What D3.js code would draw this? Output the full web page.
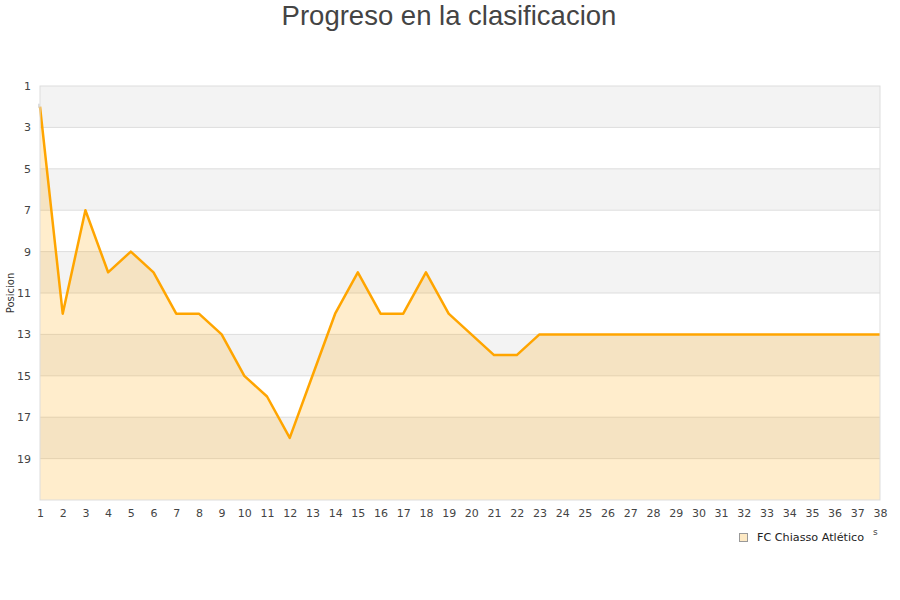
<!DOCTYPE html>
<html><head><meta charset="utf-8">
<script src="https://cdn.jsdelivr.net/npm/d3@7/dist/d3.min.js"></script>
<style>body{margin:0;background:#fff}</style>
</head><body>
<svg id="c" width="900" height="600"></svg>
<script>
const rounds = d3.range(1, 39);
const positions = [2,12,7,10,9,10,12,12,13,15,16,18,15,12,10,12,12,10,12,13,14,14,13,13,13,13,13,13,13,13,13,13,13,13,13,13,13,13];
const yTicks = [1,3,5,7,9,11,13,15,17,19];
const seriesName = "FC Chiasso Atlético";
const title = "Progreso en la clasificacion";
const yTitle = "Posicion";

const svg = d3.select("#c");
const L = 40, R = 880, T = 86, B = 500;
const x = d3.scaleLinear().domain([1, 38]).range([L, R]);
const y = d3.scaleLinear().domain([1, 21]).range([T, B]);

// bands
const bands = d3.range(1, 21, 2);
svg.append("g").selectAll("rect").data(bands).join("rect")
  .attr("x", L).attr("width", R - L)
  .attr("y", d => y(d)).attr("height", d => y(d + 2) - y(d))
  .attr("fill", (d, i) => i % 2 === 0 ? "#f3f3f3" : "#ffffff");
// grid lines
svg.append("g").selectAll("line").data(d3.range(3, 21, 2)).join("line")
  .attr("x1", L).attr("x2", R).attr("y1", d => y(d)).attr("y2", d => y(d))
  .attr("stroke", "#dddddd").attr("stroke-width", 1);

const data = rounds.map((r, i) => ({r, p: positions[i]}));
svg.append("path").datum(data)
  .attr("d", d3.area().x(d => x(d.r)).y0(y(21)).y1(d => y(d.p)))
  .attr("fill", "rgba(255,165,0,0.2)");
svg.append("path").datum(data)
  .attr("d", d3.line().x(d => x(d.r)).y(d => y(d.p)))
  .attr("fill", "none").attr("stroke", "#ffa500").attr("stroke-width", 2.5)
  .attr("stroke-linejoin", "round");
// small first-point marker
svg.append("line").attr("x1", x(1) - 1).attr("x2", x(1) - 1)
  .attr("y1", y(positions[0]) - 3).attr("y2", y(positions[0]) + 1)
  .attr("stroke", "#bbb").attr("stroke-width", 1);

// border
svg.append("rect").attr("x", L).attr("y", T).attr("width", R - L).attr("height", B - T)
  .attr("fill", "none").attr("stroke", "#dddddd");

// axes
const xAxis = svg.append("g").attr("transform", `translate(0,${B})`)
  .call(d3.axisBottom(x).tickValues(rounds).tickSize(0).tickPadding(9).tickFormat(d3.format("d")));
xAxis.select(".domain").remove();
const yAxis = svg.append("g").attr("transform", `translate(${L},0)`)
  .call(d3.axisLeft(y).tickValues(yTicks).tickSize(0).tickPadding(9));
yAxis.select(".domain").remove();
svg.selectAll(".tick text").attr("fill", "#444").attr("font-family", "DejaVu Sans").attr("font-size", 11);

svg.append("text").attr("x", 449).attr("y", 25).attr("text-anchor", "middle")
  .attr("font-family", "Liberation Sans, Arial").attr("font-size", 27.5).attr("fill", "#444").text(title);
svg.append("text").attr("transform", "translate(14,293) rotate(-90)").attr("text-anchor", "middle")
  .attr("font-family", "DejaVu Sans").attr("font-size", 10).attr("fill", "#333").text(yTitle);

// legend
svg.append("rect").attr("x", 739.5).attr("y", 533.5).attr("width", 8).attr("height", 8)
  .attr("fill", "#fde9c4").attr("stroke", "#999");
svg.append("text").attr("x", 757).attr("y", 541).attr("font-family", "DejaVu Sans")
  .attr("font-size", 11.2).attr("fill", "#222").text(seriesName);
svg.append("text").attr("x", 873).attr("y", 535).attr("font-family", "DejaVu Sans")
  .attr("font-size", 9).attr("fill", "#444").text("s");
</script>
</body></html>
